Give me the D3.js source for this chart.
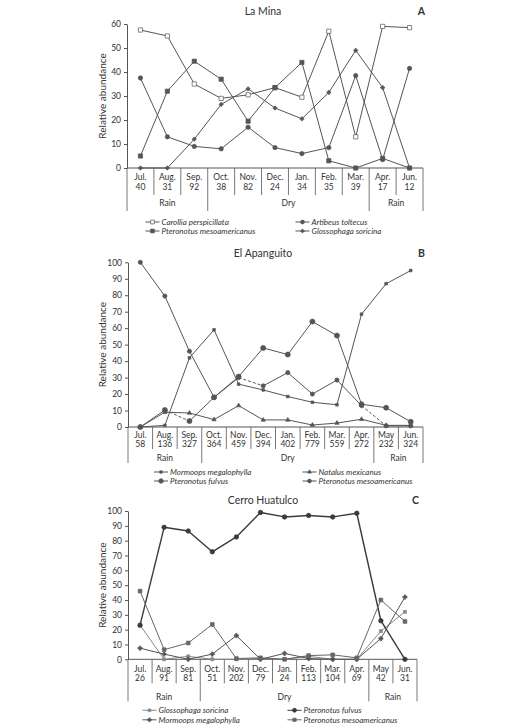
<!DOCTYPE html>
<html>
<head>
<meta charset="utf-8">
<script src="https://cdn.jsdelivr.net/npm/d3@7"></script>
<style>
  body { margin: 0; background: #fff; }
  svg text { font-family: Lato, "Open Sans", sans-serif; fill: #333; }
</style>
</head>
<body>
<div id="chart"></div>
<script>
// ---- Panel A: La Mina ----
const monthsA = ['Jul.', 'Aug.', 'Sep.', 'Oct.', 'Nov.', 'Dec.', 'Jan.', 'Feb.', 'Mar.', 'Apr.', 'Jun.'];
const countsA = [40, 31, 92, 38, 82, 24, 34, 35, 39, 17, 12];
const seasonNamesA = ['Rain', 'Dry', 'Rain'];
const seasonSpansA = [3, 6, 2];
const carolliaA = [57.5, 55, 35, 29, 30.5, 33.5, 29.5, 57, 13, 59, 58.5];
const artibeusA = [37.5, 13, 9, 8, 17, 8.5, 6, 8.5, 38.5, 3.5, 41.5];
const mesoA = [5, 32, 44.5, 37, 19.5, 33.5, 44, 3, 0, 4, 0];
const glossoA = [0, 0, 12, 26.5, 33, 25, 20.5, 31.5, 49, 33.5, 0];

// ---- Panel B: El Apanguito ----
const monthsB = ['Jul.', 'Aug.', 'Sep.', 'Oct.', 'Nov.', 'Dec.', 'Jan.', 'Feb.', 'Mar.', 'Apr.', 'May', 'Jun.'];
const countsB = [58, 136, 327, 364, 459, 394, 402, 779, 559, 272, 232, 324];
const seasonNamesB = ['Rain', 'Dry', 'Rain'];
const seasonSpansB = [3, 7, 2];
const mormoopsB = [0, 1, 42, 59, 26, 22.5, 18.5, 15, 13.5, 68.5, 87, 95];
const natalusB = [0, 9, 8.5, 4.5, 13, 4.3, 4.3, 1.2, 2.4, 4.7, 1, 1];
const fulvusB = [0, 10.3, 3.6, 18, 30.6, 48, 44, 64, 55.5, 13.8, 11.7, 3.2];
const mesoB = [100, 79.5, 46, 18, 30, 25, 33, 20, 28.5, 13, 0.7, 0.7];
const fulvusDashB = [1];
const mesoDashB = [4, 9];

// ---- Panel C: Cerro Huatulco ----
const monthsC = ['Jul.', 'Aug.', 'Sep.', 'Oct.', 'Nov.', 'Dec.', 'Jan.', 'Feb.', 'Mar.', 'Apr.', 'May', 'Jun.'];
const countsC = [26, 91, 81, 51, 202, 79, 24, 113, 104, 69, 42, 31];
const seasonNamesC = ['Rain', 'Dry', 'Rain'];
const seasonSpansC = [3, 7, 2];
const glossoC = [23, 0, 2, 0, 0, 0.5, 0, 2, 0, 0, 19, 32];
const mormoopsC = [7.5, 3.5, 0, 3.5, 16, 0, 4, 0.5, 0, 0, 14, 42];
const fulvusC = [23, 89, 86.5, 72.5, 82.5, 99, 96, 97, 96, 98.5, 26, 0];
const mesoC = [46, 6.5, 11, 23.5, 0.5, 1, 0, 2.5, 3, 1, 40, 25.5];

const svg = d3.select('#chart').append('svg')
  .attr('width', 528)
  .attr('height', 728);

const ink = '#555';

function drawPanel(p) {
  const g = svg.append('g');
  const n = p.months.length;
  const x = d3.scaleBand().domain(d3.range(n)).range([p.left, p.right]);
  const xc = i => x(i) + x.bandwidth() / 2;
  const y = d3.scaleLinear().domain([0, p.yMax]).range([p.y0, p.yTop]);

  // title and panel letter
  g.append('text').attr('x', 263).attr('y', p.titleY).attr('dy', '0.35em')
    .attr('text-anchor', 'middle').style('font-size', '10.5px').text(p.title);
  g.append('text').attr('x', p.right + 2).attr('y', p.titleY).attr('dy', '0.35em')
    .attr('text-anchor', 'end').style('font-size', '10.5px').style('font-weight', 'bold')
    .text(p.letter);

  // y axis
  const yAxis = d3.axisLeft(y)
    .tickValues(d3.range(0, p.yMax + 1, 10))
    .tickSize(3).tickSizeOuter(0).tickPadding(3);
  const ya = g.append('g').attr('transform', `translate(${p.left},0)`).call(yAxis);
  ya.selectAll('path, line').attr('stroke', ink);
  ya.selectAll('text').style('font-size', '8.5px').style('font-family', 'Lato, sans-serif').attr('fill', '#333');

  g.append('text')
    .attr('transform', `translate(102,${(p.y0 + p.yTop) / 2}) rotate(-90)`)
    .attr('text-anchor', 'middle').attr('dy', '0.35em')
    .style('font-size', '10px').text('Relative abundance');

  // category axis: baseline, month boxes, season boxes
  g.append('line').attr('x1', p.left).attr('x2', p.right)
    .attr('y1', p.y0).attr('y2', p.y0).attr('stroke', ink);

  const bounds = [0];
  p.seasonSpans.forEach(s => bounds.push(bounds[bounds.length - 1] + s));
  const edge = i => (i >= n ? p.right : x(i));

  g.selectAll('line.sep').data(d3.range(1, n).filter(i => !bounds.includes(i)))
    .join('line').attr('class', 'sep')
    .attr('x1', edge).attr('x2', edge)
    .attr('y1', p.y0).attr('y2', p.y0 + p.sepLen)
    .attr('stroke', ink).attr('stroke-width', 0.8);

  g.selectAll('line.season').data(bounds)
    .join('line').attr('class', 'season')
    .attr('x1', edge).attr('x2', edge)
    .attr('y1', p.y0).attr('y2', p.y0 + p.seasonLen)
    .attr('stroke', ink).attr('stroke-width', 0.8);

  g.selectAll('text.month').data(p.months).join('text').attr('class', 'month')
    .attr('x', (d, i) => xc(i)).attr('y', p.y0 + p.monthDy).attr('dy', '0.35em')
    .attr('text-anchor', 'middle').style('font-size', '8.5px').text(d => d);
  g.selectAll('text.count').data(p.counts).join('text').attr('class', 'count')
    .attr('x', (d, i) => xc(i)).attr('y', p.y0 + p.countDy).attr('dy', '0.35em')
    .attr('text-anchor', 'middle').style('font-size', '8.5px').text(d => d);
  g.selectAll('text.seasonName').data(p.seasonNames).join('text').attr('class', 'seasonName')
    .attr('x', (d, i) => (edge(bounds[i]) + edge(bounds[i + 1])) / 2)
    .attr('y', p.y0 + p.seasonDy).attr('dy', '0.35em')
    .attr('text-anchor', 'middle').style('font-size', '8.5px').text(d => d);

  // series
  p.series.forEach(s => {
    const sg = g.append('g');
    const segs = d3.range(n - 1).map(i => ({ i, a: s.values[i], b: s.values[i + 1] }));
    sg.selectAll('line').data(segs).join('line')
      .attr('x1', d => xc(d.i)).attr('y1', d => y(d.a))
      .attr('x2', d => xc(d.i + 1)).attr('y2', d => y(d.b))
      .attr('stroke', s.stroke).attr('stroke-width', s.width || 1)
      .attr('stroke-dasharray', d => (s.dashed || []).includes(d.i) ? '3,2' : null);
    sg.selectAll('path').data(s.values).join('path')
      .attr('transform', (d, i) => `translate(${xc(i)},${y(d)})`)
      .attr('d', d3.symbol().type(s.symbol).size(s.size))
      .attr('fill', s.fill).attr('stroke', s.stroke).attr('stroke-width', 0.7);
  });

  // legend
  p.legend.forEach(item => {
    const s = p.series[item.s];
    const lx = p.legendX[item.col];
    const ly = p.y0 + p.legendDy[item.row];
    g.append('line').attr('x1', lx - 7).attr('x2', lx + 7).attr('y1', ly).attr('y2', ly)
      .attr('stroke', s.stroke).attr('stroke-width', 1);
    g.append('path').attr('transform', `translate(${lx},${ly})`)
      .attr('d', d3.symbol().type(s.symbol).size(s.size * 0.8))
      .attr('fill', s.fill).attr('stroke', s.stroke).attr('stroke-width', 0.7);
    g.append('text').attr('x', lx + 9).attr('y', ly).attr('dy', '0.35em')
      .style('font-size', '8px').style('font-style', 'italic').text(s.name);
  });
}

drawPanel({
  title: 'La Mina', letter: 'A', titleY: 11,
  months: monthsA, counts: countsA, seasonNames: seasonNamesA, seasonSpans: seasonSpansA,
  left: 127, right: 423, y0: 168, yTop: 24, yMax: 60,
  monthDy: 9, countDy: 19, sepLen: 27, seasonDy: 35, seasonLen: 43,
  legendX: [152.5, 302.5], legendDy: [54, 63],
  series: [
    { name: 'Carollia perspicillata', values: carolliaA, symbol: d3.symbolSquare, size: 18, fill: '#fff', stroke: ink },
    { name: 'Artibeus toltecus', values: artibeusA, symbol: d3.symbolCircle, size: 15, fill: ink, stroke: ink },
    { name: 'Pteronotus mesoamericanus', values: mesoA, symbol: d3.symbolSquare, size: 18, fill: ink, stroke: ink },
    { name: 'Glossophaga soricina', values: glossoA, symbol: d3.symbolCross, size: 8, fill: ink, stroke: ink }
  ],
  legend: [{ s: 0, col: 0, row: 0 }, { s: 1, col: 1, row: 0 }, { s: 2, col: 0, row: 1 }, { s: 3, col: 1, row: 1 }]
});

drawPanel({
  title: 'El Apanguito', letter: 'B', titleY: 253,
  months: monthsB, counts: countsB, seasonNames: seasonNamesB, seasonSpans: seasonSpansB,
  left: 128, right: 423, y0: 427, yTop: 262.3, yMax: 100,
  monthDy: 8, countDy: 17, sepLen: 22, seasonDy: 31, seasonLen: 36,
  legendX: [161, 309.5], legendDy: [45, 54],
  series: [
    { name: 'Mormoops megalophylla', values: mormoopsB, symbol: d3.symbolSquare, size: 7, fill: ink, stroke: ink },
    { name: 'Natalus mexicanus', values: natalusB, symbol: d3.symbolTriangle, size: 8, fill: ink, stroke: ink },
    { name: 'Pteronotus fulvus', values: fulvusB, symbol: d3.symbolCircle, size: 20, fill: ink, stroke: ink, dashed: fulvusDashB },
    { name: 'Pteronotus mesoamericanus', values: mesoB, symbol: d3.symbolCircle, size: 14, fill: ink, stroke: ink, dashed: mesoDashB }
  ],
  legend: [{ s: 0, col: 0, row: 0 }, { s: 1, col: 1, row: 0 }, { s: 2, col: 0, row: 1 }, { s: 3, col: 1, row: 1 }]
});

drawPanel({
  title: 'Cerro Huatulco', letter: 'C', titleY: 500,
  months: monthsC, counts: countsC, seasonNames: seasonNamesC, seasonSpans: seasonSpansC,
  left: 128, right: 417, y0: 659.3, yTop: 511, yMax: 100,
  monthDy: 10, countDy: 19, sepLen: 24, seasonDy: 37.5, seasonLen: 42,
  legendX: [149.5, 294.5], legendDy: [51, 60.5],
  series: [
    { name: 'Glossophaga soricina', values: glossoC, symbol: d3.symbolSquare, size: 9, fill: '#888', stroke: '#888' },
    { name: 'Pteronotus fulvus', values: fulvusC, symbol: d3.symbolCircle, size: 16, fill: '#3a3a3a', stroke: '#3a3a3a', width: 1.4 },
    { name: 'Mormoops megalophylla', values: mormoopsC, symbol: d3.symbolCross, size: 10, fill: '#555', stroke: '#555' },
    { name: 'Pteronotus mesoamericanus', values: mesoC, symbol: d3.symbolSquare, size: 14, fill: '#666', stroke: '#666' }
  ],
  legend: [{ s: 0, col: 0, row: 0 }, { s: 1, col: 1, row: 0 }, { s: 2, col: 0, row: 1 }, { s: 3, col: 1, row: 1 }]
});
</script>
</body>
</html>
